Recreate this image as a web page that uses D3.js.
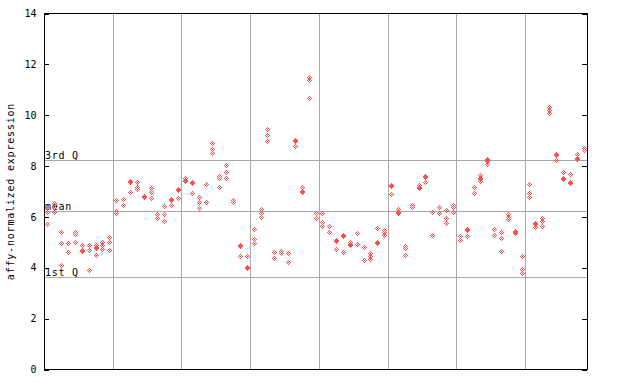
<!DOCTYPE html>
<html><head><meta charset="utf-8">
<script src="https://cdn.jsdelivr.net/npm/d3@7"></script>
<style>
html,body{margin:0;padding:0;background:#fff;}
svg{display:block;}
text{font-family:"DejaVu Sans Mono",monospace;fill:#000;}
</style></head>
<body>
<script>
// expression values per sample (replicates), 8 groups of 10 samples (last has 9)
const samples = [
  [6.40,6.20,5.72],[6.53,6.38,6.20],[5.39,4.96,4.11],[4.96,4.63],[5.42,5.32,5.00],
  [4.90,4.70,4.66],[4.90,4.70,3.91],[4.90,4.80,4.76,4.50],[5.00,4.90,4.73],[5.22,5.00,4.70],
  [6.66,6.24,6.17],[6.70,6.46],[7.41,7.37,6.97],[7.36,7.19,7.10],[6.84,6.80],
  [7.12,6.99,6.73],[6.10,5.97],[6.43,6.10,5.84],[6.71,6.67,6.46],[7.10,7.06,6.73],
  [7.52,7.44,7.40],[7.36,7.32,6.93],[6.77,6.57,6.34],[7.28,6.57],[8.89,8.66,8.50],
  [7.61,7.52,7.16],[8.03,7.75,7.52],[6.66,6.57],[4.88,4.84,4.48],[4.46,4.02,3.98],
  [5.51,5.13,4.96],[6.30,6.15,6.00],[9.44,9.22,9.00],[4.61,4.37],[4.67,4.57],
  [4.57,4.24],[9.01,8.97,8.80],[7.19,7.01,6.97],[11.50,11.40,10.66],[6.14,5.97],
  [6.17,5.81,5.64],[5.64,5.39],[5.11,5.07,4.73],[5.28,5.24,4.61],[5.03,4.92,4.88],
  [5.36,4.92],[4.80,4.29],[4.57,4.48,4.33],[5.55,5.01,4.97],[5.49,5.39,5.29],
  [7.27,7.23,6.89],[6.31,6.21,6.17],[4.87,4.77,4.49],[6.47,6.38],[7.25,7.17,7.13],
  [7.60,7.56,7.36],[6.20,5.28],[6.38,6.14],[6.27,5.94,5.75],[6.47,6.38,6.20],
  [5.25,5.09],[5.53,5.49,5.25],[7.19,6.93],[7.63,7.52,7.48,7.42],[8.29,8.22,8.18,8.08],
  [5.51,5.29],[5.41,5.16,4.65],[6.11,6.01,5.91],[5.46,5.40,5.36],[4.46,3.94,3.78],
  [7.28,6.93,6.77],[5.77,5.73,5.61],[5.94,5.85,5.64],[10.31,10.20,10.07],[8.48,8.44,8.24],
  [7.76,7.52,7.48],[7.68,7.36,7.32],[8.47,8.32,8.28],[8.73,8.63]
];
const groupSize = 10;
const yTicks = [0,2,4,6,8,10,12,14];
const refNames = ["3rd Q","mean","1st Q"];
const refValues = [8.23,6.23,3.63];
const yTitle = "affy-normalized expression";

const W = 640, H = 384;
const L = 44, R = 587, T = 13.5, B = 369.5;
const red = "#ff5050", grid = "#a8a8a8";

const svg = d3.select("body").append("svg").attr("width",W).attr("height",H);
const x = d3.scaleLinear().domain([0, samples.length]).range([L, R]);
const y = d3.scaleLinear().domain([0, 14]).range([B, T]);

// group separators
const seps = d3.range(groupSize, samples.length, groupSize);
svg.append("g").selectAll("line").data(seps).join("line")
  .attr("x1", d => Math.round(x(d))+0.5).attr("x2", d => Math.round(x(d))+0.5)
  .attr("y1", T).attr("y2", B).attr("stroke", grid).attr("stroke-width",1)
  .attr("shape-rendering","crispEdges");

// reference lines
svg.append("g").selectAll("line").data(refValues).join("line")
  .attr("x1", L).attr("x2", R)
  .attr("y1", d => Math.round(y(d))+0.5).attr("y2", d => Math.round(y(d))+0.5)
  .attr("stroke", grid).attr("stroke-width",1).attr("shape-rendering","crispEdges");
svg.append("g").selectAll("text").data(refValues).join("text")
  .attr("x", L+1).attr("y", d => Math.round(y(d))-1)
  .style("font-size","10px").style("letter-spacing","0.7px")
  .text((d,i) => refNames[i]);

// glyph: checkered diamond
const glyph = [];
for (let dx=-2; dx<=2; dx++) for (let dy=-2; dy<=2; dy++)
  if (Math.abs(dx)+Math.abs(dy) <= 2 && (dx+dy)%2 === 0) glyph.push([dx,dy]);

const pts = [];
samples.forEach((vals,i) => vals.forEach(v => pts.push({i, v})));
const gp = svg.append("g").attr("fill", red).attr("shape-rendering","crispEdges");
pts.forEach(p => {
  const cx = Math.round(x(p.i+0.5)), cy = Math.round(y(p.v));
  gp.selectAll(null).data(glyph).join("rect")
    .attr("x", d => cx+d[0]).attr("y", d => cy+d[1])
    .attr("width",1).attr("height",1);
});

// frame
svg.append("rect").attr("x", L+0.5).attr("y", T).attr("width", R-L).attr("height", B-T)
  .attr("fill","none").attr("stroke","#000").attr("stroke-width",1)
  .attr("shape-rendering","crispEdges");

// y axis (left) ticks inward + labels
const axL = d3.axisLeft(y).tickValues(yTicks).tickSize(0).tickPadding(8).tickFormat(d3.format("d"));
const gL = svg.append("g").attr("transform",`translate(${L+0.5},0)`).call(axL);
gL.select(".domain").remove();
gL.selectAll("text").style("font-family","DejaVu Sans Mono, monospace").style("font-size","10px");
svg.append("g").selectAll("line").data(yTicks).join("line")
  .attr("x1", L).attr("x2", L+5)
  .attr("y1", d => Math.round(y(d))+0.5).attr("y2", d => Math.round(y(d))+0.5)
  .attr("stroke","#000").attr("shape-rendering","crispEdges");
svg.append("g").selectAll("line").data(yTicks).join("line")
  .attr("x1", R-5).attr("x2", R)
  .attr("y1", d => Math.round(y(d))+0.5).attr("y2", d => Math.round(y(d))+0.5)
  .attr("stroke","#000").attr("shape-rendering","crispEdges");

// y title
svg.append("text").attr("transform", `translate(14,${(T+B)/2}) rotate(-90)`)
  .attr("text-anchor","middle").style("font-size","10px").style("letter-spacing","0.8px")
  .text(yTitle);
</script>
</body></html>
